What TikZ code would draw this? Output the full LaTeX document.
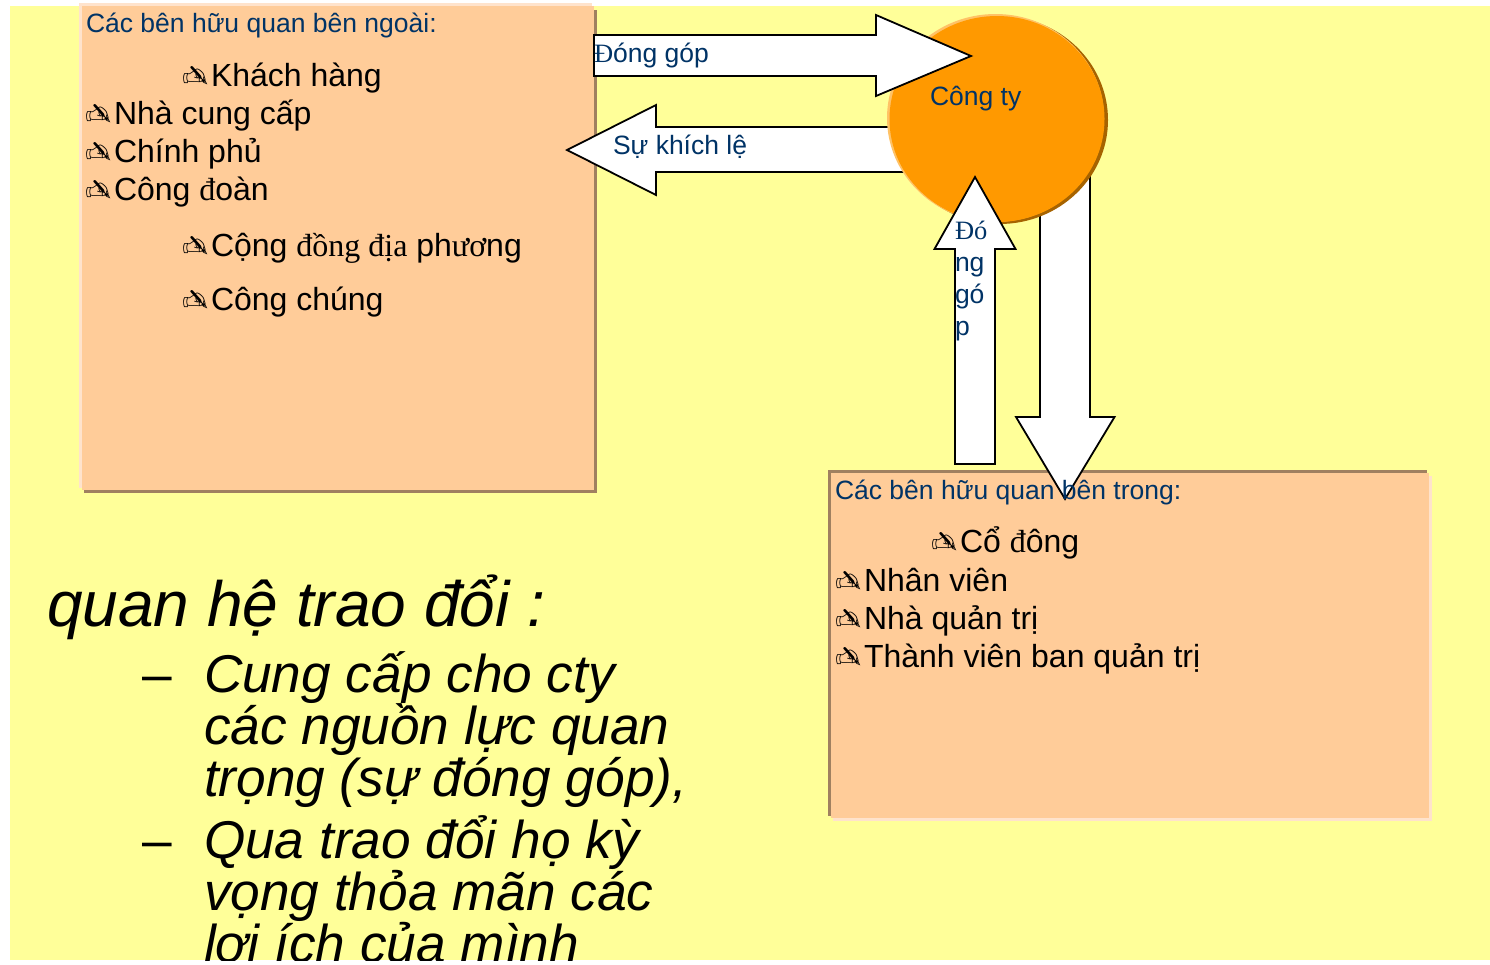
\documentclass[tikz,border=0pt]{standalone}
\usepackage{fontspec}
\usepackage{xcolor}
\usepackage{tikz}
\usetikzlibrary{shapes.geometric}
\setmainfont{Liberation Sans}
\newfontfamily\srf{Liberation Serif}
\newfontfamily\sym{DejaVu Sans}
\definecolor{slide}{HTML}{FFFF99}
\definecolor{peach}{HTML}{FFCC99}
\definecolor{peachlight}{HTML}{FFE3CC}
\definecolor{peachdark}{HTML}{A08060}
\definecolor{company}{HTML}{FF9900}
\definecolor{companylight}{HTML}{FFC266}
\definecolor{companydark}{HTML}{A66300}
\definecolor{label}{HTML}{003366}
\tikzset{
  txt/.style={anchor=base west,inner sep=0pt,outer sep=0pt},
  bluetxt/.style={txt,text=label,font=\fontsize{26.5}{30}\selectfont},
  itemtxt/.style={txt,font=\fontsize{32}{36}\selectfont},
  bigtxt/.style={txt,font=\fontsize{53.2}{60}\selectfont\itshape},
  handmark/.style={txt,font=\sym\fontsize{31}{33}\selectfont},
  blockarrow/.style={draw=black,fill=white,line width=1.8pt,line join=miter},
}
\begin{document}
\begin{tikzpicture}[x=1pt,y=-1pt]

	\useasboundingbox (0,0) rectangle (1490,964);
	\fill [slide] (10,6) rectangle (1490,960);

	\fill [peachlight] (79,3) rectangle (592,488);
	\fill [peachdark] (84,10) rectangle (597,493);
	\fill [peach] (82,6) rectangle (594,490);

	\fill [peachdark] (828,470) rectangle (1427,816);
	\fill [peachlight] (833,476) rectangle (1432,821);
	\fill [peach] (831,473) rectangle (1429,818);

	\draw [blockarrow] (1000,127) -- (656,127) -- (656,105) -- (567,150) -- (656,195) -- (656,172) -- (1000,172) -- cycle;
	\draw [blockarrow] (1040,120) -- (1040,417) -- (1016,417) -- (1065,499) -- (1114.5,417) -- (1090,417) -- (1090,120) -- cycle;

	\node (cdark) at (999.5,120) [ellipse,fill=companydark,minimum width=217pt,minimum height=208pt,inner sep=0pt] {};
	\node (clight) at (995.5,118) [ellipse,fill=companylight,minimum width=217pt,minimum height=208pt,inner sep=0pt] {};
	\node (company) at (997,119) [ellipse,fill=company,minimum width=215pt,minimum height=206pt,inner sep=0pt] {};

	\draw [blockarrow] (594,35) -- (876,35) -- (876,15) -- (971,56) -- (876,96) -- (876,76) -- (594,76) -- cycle;
	\draw [blockarrow] (955,464) -- (955,249) -- (934.5,249) -- (975,177) -- (1015.5,249) -- (995,249) -- (995,464) -- cycle;

	\node (outer) at (86,32) [bluetxt] {Các bên hữu quan bên ngoài:};
	\node (inner) at (835,499) [bluetxt] {Các bên hữu quan bên trong:};
	\node (give) at (594,62) [bluetxt] {{\srf Đ}óng góp};
	\node (reward) at (613,154) [bluetxt] {Sự khích lệ};
	\node (name) at (930,105) [bluetxt] {Công ty};

	\foreach \y/\t/\n in {239/{\srf Đó}/a,271/ng/b,303/gó/c,335/p/d} {
	    \node (up\n) at (955,\y) [bluetxt] {\t};
	}

	\foreach \x/\y/\t/\n in {
	    184/86/{Khách hàng}/a,
	    87/124/{Nhà cung cấp}/b,
	    87/162/{Chính phủ}/c,
	    87/200/{Công {\srf đ}oàn}/d,
	    184/256/{Cộng {\srf đồng địa} ph{\srf ươ}ng}/e,
	    184/310/{Công chúng}/f,
	    933/552/{Cổ {\srf đ}ông}/g,
	    837/591/{Nhân viên}/h,
	    837/629/{Nhà quản trị}/i,
	    837/667/{Thành viên ban quản trị}/j} {
	    \node (hand\n) at (\x-1,\y+1) [handmark] {\reflectbox{✍}};
	    \node (item\n) at (\x+27,\y) [itemtxt] {\t};
	}

	\begin{scope}
	    \clip (0,0) rectangle (1490,960);
	    \node (head) at (47,626) [txt,font=\fontsize{64}{66}\selectfont\itshape] {quan hệ trao đổi :};
	    \node (dasha) at (142,692) [txt,font=\fontsize{53.2}{60}\selectfont] {–};
	    \node (dashb) at (142,858) [txt,font=\fontsize{53.2}{60}\selectfont] {–};
	    \foreach \y/\t in {
	        692/{Cung cấp cho cty},
	        744/{các nguồn lực quan},
	        796/{trọng (sự đóng góp),},
	        858/{Qua trao đổi họ kỳ},
	        910/{vọng thỏa mãn các},
	        962/{lợi ích của mình}} {
	        \node (line\y) at (204,\y) [bigtxt] {\t};
	    }
	\end{scope}
\end{tikzpicture}
\end{document}
